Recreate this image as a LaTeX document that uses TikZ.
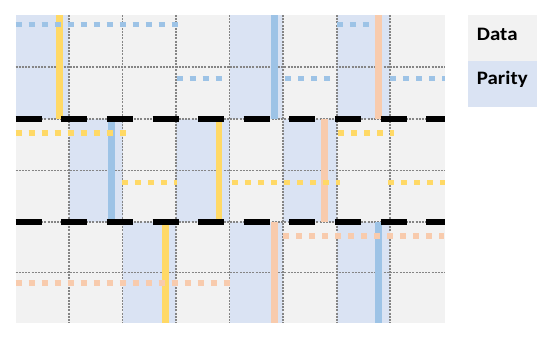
\documentclass[tikz,border=0pt]{standalone}
\usepackage{fontspec}
\setmainfont{Carlito}
\definecolor{datagray}{HTML}{F2F2F2}
\definecolor{paritybg}{HTML}{DAE3F3}
\definecolor{lnblue}{HTML}{9DC3E6}
\definecolor{lnyellow}{HTML}{FFD966}
\definecolor{lnorange}{HTML}{F8CBAD}
\definecolor{gridgray}{HTML}{858585}
\tikzset{
  gridline/.style={draw=gridgray, line width=1.5pt, dash pattern=on 2pt off 1.2pt},
  vbar/.style={line width=6.5pt, line cap=butt},
  dotline/.style={line width=5.8pt, line cap=butt, dash pattern=on 6pt off 7pt},
  blackdash/.style={draw=black, line width=6pt, line cap=butt, dash pattern=on 26pt off 19.6pt},
  legbox/.style={draw=none, minimum width=68.4pt, minimum height=46.3pt, inner sep=0pt, outer sep=0pt},
  legtext/.style={anchor=base west, inner sep=0pt, xscale=1.1, font=\fontsize{19}{23}\selectfont\bfseries}
}
\begin{document}
\begin{tikzpicture}[x=1pt, y=-1pt]
\useasboundingbox (0,0) rectangle (550,340);
% base data area
\fill[datagray] (15.5,15) rectangle (444.5,323);
% parity cells
\foreach \xa/\xb/\ya/\yb in {15.5/69/15/119, 229.7/283.2/15/119, 336.8/390.2/15/119,
  69/122.5/119/222, 176/229.7/119/222, 283.2/336.8/119/222,
  122.5/176/222/323, 229.7/283.2/222/323, 336.8/390.2/222/323}
  \fill[paritybg] (\xa,\ya) rectangle (\xb,\yb);
% grid
\foreach \x in {69,122.5,176,229.7,283.2,336.8,390.2}
  \draw[gridline] (\x,15) -- (\x,323);
\foreach \y in {67,119,170.5,222,272.5}
  \draw[gridline] (15.5,\y) -- (444.5,\y);
% vertical bars
\foreach \x/\ya/\yb/\c in {59.5/15/119/lnyellow, 274.7/15/119/lnblue, 378.7/15/119/lnorange,
  111.5/119/222/lnblue, 219/119/222/lnyellow, 324.7/119/222/lnorange,
  165.3/222/323/lnyellow, 274.3/222/323/lnorange, 378.7/222/323/lnblue}
  \draw[vbar, draw=\c] (\x,\ya) -- (\x,\yb);
% dotted lines
\foreach \xa/\xb/\y/\c in {15.7/178/24.5/lnblue, 336.8/369/24.5/lnblue,
  176.7/222/78.5/lnblue, 285/330/78.5/lnblue, 390/445/78.5/lnblue,
  15.7/126/133/lnyellow, 338.3/393.5/133/lnyellow,
  122.3/176.5/182.5/lnyellow, 232.3/339.5/182.5/lnyellow, 388.3/444.5/182.5/lnyellow,
  283.3/444/236/lnorange, 15.7/229.7/283.3/lnorange}
  \draw[dotline, draw=\c] (\xa,\y) -- (\xb,\y);
% black boundaries
\draw[blackdash] (15.7,119) -- (444.5,119);
\draw[blackdash] (15.7,222) -- (444.5,222);
% legend
\node[legbox, fill=datagray] (datakey) at (502.5,37.85) {};
\node[legbox, fill=paritybg] (paritykey) at (502.5,84.15) {};
\node[legtext] (datalabel) at (476.7,40) {Data};
\node[legtext] (paritylabel) at (476.7,84) {Parity};
\end{tikzpicture}
\end{document}
